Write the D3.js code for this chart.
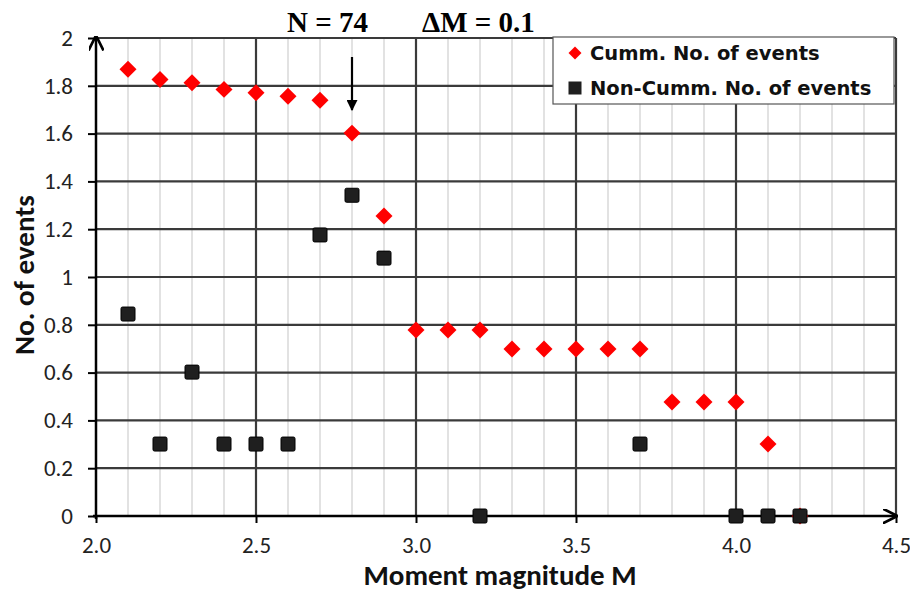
<!DOCTYPE html>
<html><head><meta charset="utf-8">
<script src="https://cdn.jsdelivr.net/npm/d3@7"></script>
<style>body{margin:0;background:#fff}svg{display:block}</style>
</head><body><svg id="c" width="910" height="592"></svg>
<script>
const magnitudes = [2.1,2.2,2.3,2.4,2.5,2.6,2.7,2.8,2.9,3.0,3.1,3.2,3.3,3.4,3.5,3.6,3.7,3.8,3.9,4.0,4.1,4.2];
const cummValues = [1.869,1.826,1.813,1.785,1.771,1.756,1.740,1.602,1.255,0.778,0.778,0.778,0.699,0.699,0.699,0.699,0.699,0.477,0.477,0.477,0.301,0.0];
const nonCummM = [2.1,2.2,2.3,2.4,2.5,2.6,2.7,2.8,2.9,3.2,3.7,4.0,4.1,4.2];
const nonCummValues = [0.845,0.301,0.602,0.301,0.301,0.301,1.176,1.342,1.079,0.0,0.301,0.0,0.0,0.0];
const xTicks = [2.0,2.5,3.0,3.5,4.0,4.5];
const yTicks = [0,0.2,0.4,0.6,0.8,1,1.2,1.4,1.6,1.8,2];
const seriesNames = ["Cumm. No. of events","Non-Cumm. No. of events"];

const svg = d3.select("#c");
const x = d3.scaleLinear().domain([2.0,4.5]).range([96,896]);
const y = d3.scaleLinear().domain([0,2]).range([516,38]);
const font = "Carlito, Lato, 'Open Sans', sans-serif";

// minor vertical gridlines
const minor = d3.range(21,45).map(d=>d/10).filter(d=>Math.abs(d*2-Math.round(d*2))>1e-6);
svg.append("g").selectAll("line").data(minor).join("line")
  .attr("x1",d=>x(d)).attr("x2",d=>x(d)).attr("y1",y(2)).attr("y2",y(0))
  .attr("stroke","#d9d9d9").attr("stroke-width",1.5);
svg.append("g").selectAll("line").data(yTicks.slice(1)).join("line")
  .attr("x1",x(2)).attr("x2",x(4.5)).attr("y1",d=>y(d)).attr("y2",d=>y(d))
  .attr("stroke","#3a3a3a").attr("stroke-width",2.2);
svg.append("g").selectAll("line").data(xTicks.slice(1)).join("line")
  .attr("x1",d=>x(d)).attr("x2",d=>x(d)).attr("y1",y(2)).attr("y2",y(0))
  .attr("stroke","#3a3a3a").attr("stroke-width",2.2);

const defs = svg.append("defs");
defs.append("marker").attr("id","ah").attr("viewBox","0 0 10 10").attr("refX",9).attr("refY",5)
  .attr("markerWidth",6).attr("markerHeight",6).attr("orient","auto-start-reverse")
  .append("path").attr("d","M0,0 L10,5 L0,10").attr("fill","none").attr("stroke","#000").attr("stroke-width",1.8);
defs.append("marker").attr("id","ah2").attr("viewBox","0 0 10 10").attr("refX",9).attr("refY",5)
  .attr("markerWidth",5).attr("markerHeight",5).attr("orient","auto")
  .append("path").attr("d","M0,0 L10,5 L0,10 Z").attr("fill","#000");

const yAxis = d3.axisLeft(y).tickValues(yTicks).tickSize(8).tickPadding(15).tickFormat(d3.format("~g"));
const gy = svg.append("g").attr("transform",`translate(${x(2)},0)`).call(yAxis);
gy.select(".domain").remove();
gy.selectAll("line").attr("stroke","#000").attr("stroke-width",2);
gy.selectAll("text").attr("font-family",font).attr("font-size",23).attr("fill","#222");

const xAxis = d3.axisBottom(x).tickValues(xTicks).tickSize(7).tickPadding(14).tickFormat(d3.format(".1f"));
const gx = svg.append("g").attr("transform",`translate(0,${y(0)})`).call(xAxis);
gx.select(".domain").remove();
gx.selectAll("line").attr("stroke","#000").attr("stroke-width",2);
gx.selectAll("text").attr("font-family",font).attr("font-size",23).attr("fill","#222")
  .attr("y",37).attr("dy",0);

svg.append("line").attr("x1",x(2)).attr("x2",x(2)).attr("y1",y(0)+3).attr("y2",y(2)-1)
  .attr("stroke","#000").attr("stroke-width",2.5).attr("marker-end","url(#ah)");
svg.append("line").attr("x1",x(2)-3).attr("x2",x(4.5)).attr("y1",y(0)).attr("y2",y(0))
  .attr("stroke","#000").attr("stroke-width",2.5).attr("marker-end","url(#ah)");

const diamond = d3.symbol().type(d3.symbolSquare).size(144);
svg.append("g").selectAll("path").data(magnitudes).join("path")
  .attr("d",diamond)
  .attr("transform",(d,i)=>`translate(${x(d)},${y(cummValues[i])}) rotate(45)`)
  .attr("fill","#ff0000");
svg.append("g").selectAll("rect").data(nonCummM).join("rect")
  .attr("x",d=>x(d)-7).attr("y",(d,i)=>y(nonCummValues[i])-7)
  .attr("width",14).attr("height",14).attr("rx",1.5)
  .attr("fill","#1f1f1f").attr("stroke","#000").attr("stroke-width",1);

svg.append("line").attr("x1",x(2.8)).attr("x2",x(2.8)).attr("y1",57).attr("y2",110)
  .attr("stroke","#000").attr("stroke-width",2.2).attr("marker-end","url(#ah2)");

const serif = "'Liberation Serif','Times New Roman',serif";
svg.append("text").attr("x",287).attr("y",32).attr("font-family",serif)
  .attr("font-weight","bold").attr("font-size",29).text("N = 74");
svg.append("text").attr("x",422).attr("y",32).attr("font-family",serif)
  .attr("font-weight","bold").attr("font-size",29).text("ΔM = 0.1");

svg.append("text").attr("x",500).attr("y",585).attr("text-anchor","middle").attr("font-family",font)
  .attr("font-weight","bold").attr("font-size",29).attr("fill","#111").text("Moment magnitude M");
svg.append("text").attr("transform","translate(34,275) rotate(-90)").attr("text-anchor","middle").attr("font-family",font)
  .attr("font-weight","bold").attr("font-size",29).attr("fill","#111").text("No. of events");

const lg = svg.append("g");
lg.append("rect").attr("x",553).attr("y",37).attr("width",341).attr("height",67)
  .attr("fill","#fff").attr("stroke","#555").attr("stroke-width",1.2);
lg.append("path").attr("d",d3.symbol().type(d3.symbolSquare).size(84))
  .attr("transform","translate(575,53) rotate(45)").attr("fill","#ff0000");
lg.append("rect").attr("x",575-6.5).attr("y",88-6.5).attr("width",13).attr("height",13).attr("fill","#1f1f1f");
const lf = "'DejaVu Sans', Verdana, sans-serif";
lg.append("text").attr("x",590).attr("y",60).attr("font-family",lf).attr("font-weight","bold").attr("font-size",19.5).attr("fill","#111").text(seriesNames[0]);
lg.append("text").attr("x",590).attr("y",95).attr("font-family",lf).attr("font-weight","bold").attr("font-size",19.5).attr("fill","#111").text(seriesNames[1]);
</script></body></html>
